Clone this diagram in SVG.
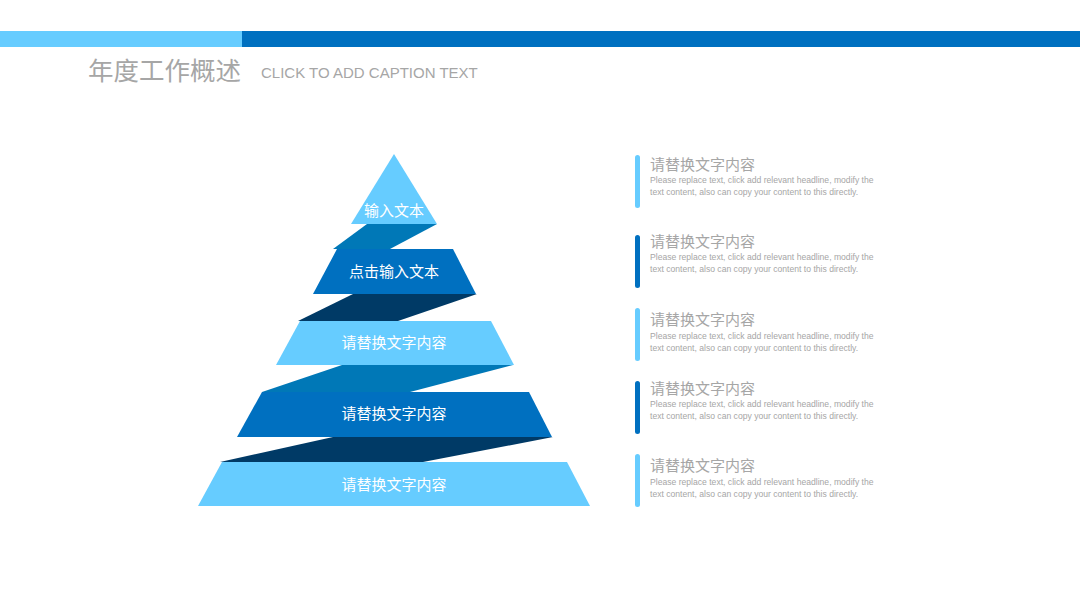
<svg xmlns="http://www.w3.org/2000/svg" width="1080" height="607" viewBox="0 0 1080 607">
<style>
.light{fill:#66CCFF}
.dark{fill:#0070C0}
.rib1{fill:#0078B7}
.rib2{fill:#003A66}
.lbl{font-family:"Noto Sans CJK SC","Liberation Sans",sans-serif;font-size:15px;fill:#FFFFFF;text-anchor:middle}
.head{font-family:"Noto Sans CJK SC","Liberation Sans",sans-serif;font-size:15px;fill:#A6A6A6}
.body{font-family:"Liberation Sans",Arial,sans-serif;font-size:8.6px;fill:#A6A6A6}
</style>
<rect width="1080" height="607" fill="#FFFFFF"/>
<rect x="0" y="31" width="242" height="16" fill="#66CCFF"/>
<rect x="242" y="31" width="838" height="16" fill="#0070C0"/>
<text x="88" y="80" font-family="Noto Sans CJK SC,Liberation Sans,sans-serif" font-size="25.5" fill="#A6A6A6">年度工作概述</text>
<text x="261" y="78" font-family="Liberation Sans,Arial,sans-serif" font-size="15" fill="#A6A6A6">CLICK TO ADD CAPTION TEXT</text>
<g id="connectors">
<polygon class="rib1" points="367,224 437,224 390,249 333,249"/>
<polygon class="rib2" points="353,294 477,294 398,321 298,321"/>
<polygon class="rib1" points="342,365 513,365 410,392 262,392"/>
<polygon class="rib2" points="333,437 553,437 423,462 220,462"/>
</g>
<g id="layer1">
<polygon class="light" points="394,154 437,224 351,224"/>
<text class="lbl" x="394" y="216">输入文本</text>
</g>
<g id="layer2">
<polygon class="dark" points="337,249 453,249 476,294 313,294"/>
<text class="lbl" x="394" y="277">点击输入文本</text>
</g>
<g id="layer3">
<polygon class="light" points="300,321 491,321 514,365 276,365"/>
<text class="lbl" x="394" y="348">请替换文字内容</text>
</g>
<g id="layer4">
<polygon class="dark" points="262,392 529,392 552,437 237,437"/>
<text class="lbl" x="394" y="419">请替换文字内容</text>
</g>
<g id="layer5">
<polygon class="light" points="222,462 567,462 590,506 198,506"/>
<text class="lbl" x="394" y="490">请替换文字内容</text>
</g>
<g id="item1">
<rect x="635" y="155" width="5" height="53" rx="2.5" class="light"/>
<text class="head" x="650" y="170">请替换文字内容</text>
<text class="body" x="650" y="183">Please replace text, click add relevant headline, modify the</text>
<text class="body" x="650" y="195">text content, also can copy your content to this directly.</text>
</g>
<g id="item2">
<rect x="635" y="235" width="5" height="53" rx="2.5" class="dark"/>
<text class="head" x="650" y="247">请替换文字内容</text>
<text class="body" x="650" y="260">Please replace text, click add relevant headline, modify the</text>
<text class="body" x="650" y="272">text content, also can copy your content to this directly.</text>
</g>
<g id="item3">
<rect x="635" y="308" width="5" height="53" rx="2.5" class="light"/>
<text class="head" x="650" y="325">请替换文字内容</text>
<text class="body" x="650" y="339">Please replace text, click add relevant headline, modify the</text>
<text class="body" x="650" y="351">text content, also can copy your content to this directly.</text>
</g>
<g id="item4">
<rect x="635" y="381" width="5" height="53" rx="2.5" class="dark"/>
<text class="head" x="650" y="394">请替换文字内容</text>
<text class="body" x="650" y="407">Please replace text, click add relevant headline, modify the</text>
<text class="body" x="650" y="419">text content, also can copy your content to this directly.</text>
</g>
<g id="item5">
<rect x="635" y="454" width="5" height="53" rx="2.5" class="light"/>
<text class="head" x="650" y="471">请替换文字内容</text>
<text class="body" x="650" y="485">Please replace text, click add relevant headline, modify the</text>
<text class="body" x="650" y="497">text content, also can copy your content to this directly.</text>
</g>
</svg>
